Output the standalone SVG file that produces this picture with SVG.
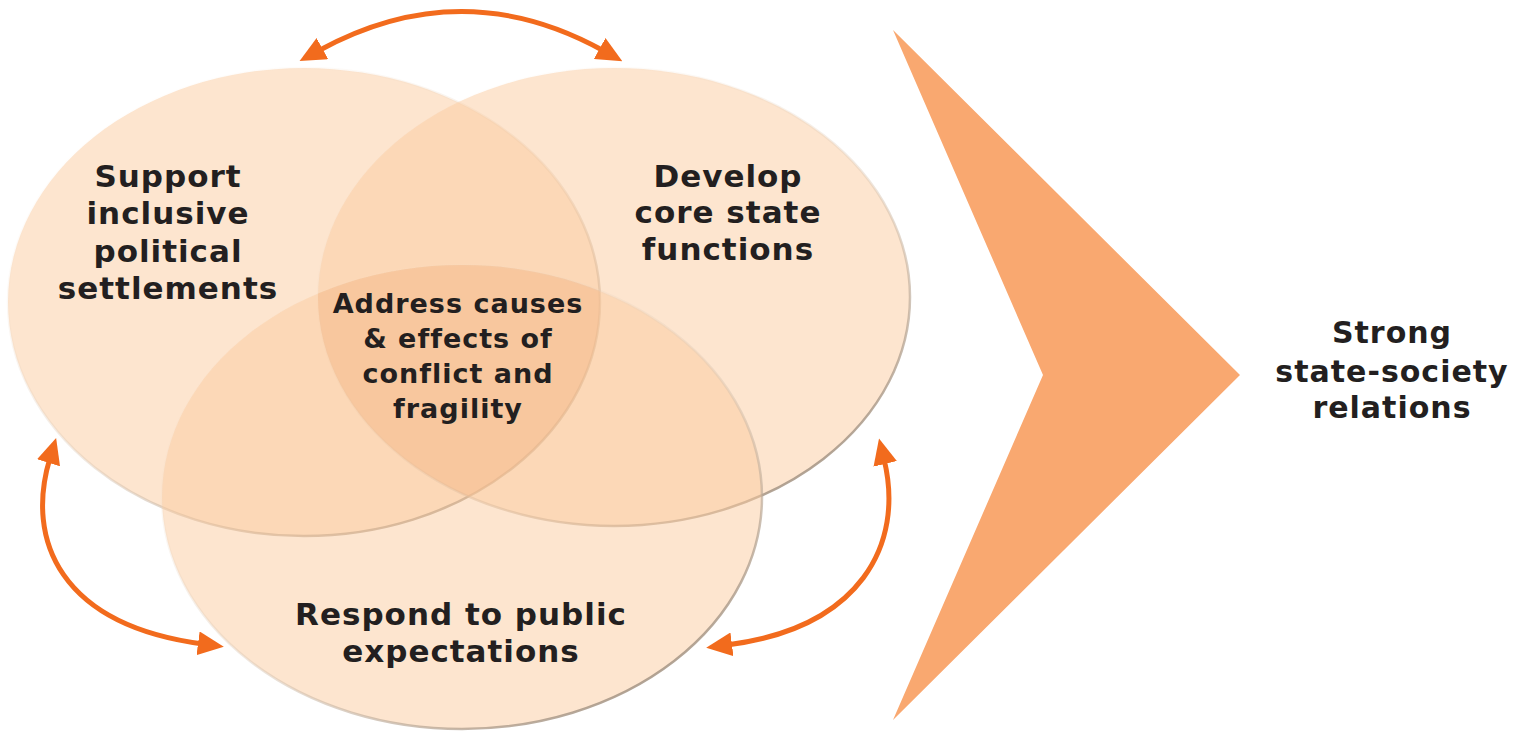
<svg xmlns="http://www.w3.org/2000/svg" width="1523" height="731" viewBox="0 0 1523 731">
<style>
.lbl{font-family:"DejaVu Sans","Liberation Sans",sans-serif;font-weight:bold;fill:#231f20;text-anchor:middle;letter-spacing:1px}
.big{font-size:31px}
.mid{font-size:27px}
.str{font-size:30px}
.circ{fill:#fbcba0;fill-opacity:0.5;stroke:url(#rim);stroke-width:2.5}
.conn{fill:none;stroke:#f26b1d;stroke-width:5;marker-start:url(#ah);marker-end:url(#ah)}
</style>
<defs>
<linearGradient id="rim" x1="0.15" y1="0.05" x2="0.85" y2="0.95">
<stop offset="0" stop-color="#fde6d0" stop-opacity="0"/>
<stop offset="0.55" stop-color="#d8c4b0" stop-opacity="0.4"/>
<stop offset="1" stop-color="#9a8a7a" stop-opacity="0.9"/>
</linearGradient>
<marker id="ah" markerWidth="26" markerHeight="24" refX="5" refY="12" orient="auto-start-reverse" markerUnits="userSpaceOnUse" viewBox="0 0 26 24">
<path d="M0,0 L26,12 L0,24 z" fill="#f26b1d"/>
</marker>
<clipPath id="cL"><ellipse cx="304" cy="302" rx="296" ry="234"/></clipPath>
<clipPath id="cR"><ellipse cx="614" cy="297" rx="296" ry="229"/></clipPath>
</defs>
<rect width="1523" height="731" fill="#ffffff"/>

<g id="circle-support">
<ellipse class="circ" cx="304" cy="302" rx="296" ry="234"/>
</g>
<g id="circle-develop">
<ellipse class="circ" cx="614" cy="297" rx="296" ry="229"/>
</g>
<g id="circle-respond">
<ellipse class="circ" cx="462" cy="497" rx="300" ry="232"/>
</g>
<g id="center-address">
<g clip-path="url(#cL)"><g clip-path="url(#cR)"><ellipse cx="462" cy="497" rx="300" ry="232" fill="#eeb080" fill-opacity="0.3"/></g></g>
</g>

<g id="label-support">
<text class="lbl big" x="168" y="187">Support</text>
<text class="lbl big" x="168" y="224">inclusive</text>
<text class="lbl big" x="168" y="262">political</text>
<text class="lbl big" x="168" y="299">settlements</text>
</g>
<g id="label-develop">
<text class="lbl big" x="728" y="187">Develop</text>
<text class="lbl big" x="728" y="223">core state</text>
<text class="lbl big" x="728" y="260">functions</text>
</g>
<g id="label-address">
<text class="lbl mid" x="458" y="313">Address causes</text>
<text class="lbl mid" x="458" y="348">&amp; effects of</text>
<text class="lbl mid" x="458" y="383">conflict and</text>
<text class="lbl mid" x="458" y="418">fragility</text>
</g>
<g id="label-respond">
<text class="lbl big" x="461" y="625">Respond to public</text>
<text class="lbl big" x="461" y="662">expectations</text>
</g>

<g id="chevron">
<polygon points="893,30 1240,375 893,720 1043,375" fill="#f9a870"/>
</g>
<g id="label-strong">
<text class="lbl str" x="1392" y="343">Strong</text>
<text class="lbl str" x="1392" y="382">state-society</text>
<text class="lbl str" x="1392" y="418">relations</text>
</g>

<g id="connectors">
<path class="conn" d="M318,51 Q462,-28 604,51"/>
<path class="conn" d="M50,458 C25,540 60,625 203,644"/>
<path class="conn" d="M884,459 C905,545 860,628 727,645"/>
</g>
</svg>
